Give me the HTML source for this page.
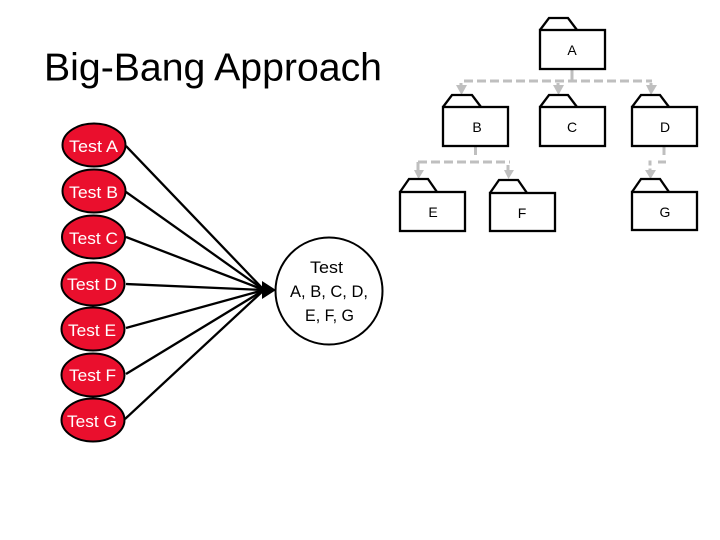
<!DOCTYPE html>
<html>
<head>
<meta charset="utf-8">
<style>
html,body{margin:0;padding:0;background:#fff;width:720px;height:540px;overflow:hidden}
svg{display:block}
text{font-family:"Liberation Sans",sans-serif}
</style>
</head>
<body>
<svg width="720" height="540" viewBox="0 0 720 540" xmlns="http://www.w3.org/2000/svg">
<rect width="720" height="540" fill="#fff"/>
<text x="44" y="80.500" font-size="39" fill="#000" textLength="338" lengthAdjust="spacingAndGlyphs">Big-Bang Approach</text>

<!-- gray dashed connectors -->
<g fill="none" stroke="#bfbfbf" stroke-width="3">
<path d="M572 70V80"/>
<path d="M464 81H652" stroke-dasharray="9 4"/>
<path d="M461 83V86M558 83V86M651 83V86"/>
<path d="M475.500 147V155"/>
<path d="M418 162H510" stroke-dasharray="9 4"/>
<path d="M418 162V172M508 165V170"/>
<path d="M664 147V155"/>
<path d="M666 162H658"/>
<path d="M650 160.500V172" stroke-dasharray="5 3"/>
</g>
<g fill="#bfbfbf">
<path d="M456 85H467L461.500 95Z"/>
<path d="M553 85H564L558.500 95Z"/>
<path d="M646 85H657L651 95Z"/>
<path d="M414 170H424L418.500 179Z"/>
<path d="M504 170H514L508.500 179Z"/>
<path d="M645 170H656L650.500 179Z"/>
</g>

<!-- folders -->
<g fill="#fff" stroke="#000" stroke-width="2.300">
<path d="M540 30L549 18H568L577 30"/><rect x="540" y="30" width="65" height="39"/>
<path d="M443 107L452 95H472L481 107"/><rect x="443" y="107" width="65" height="39"/>
<path d="M540 107L549 95H568L577 107"/><rect x="540" y="107" width="65" height="39"/>
<path d="M632 107L641 95H660L669 107"/><rect x="632" y="107" width="65" height="39"/>
<path d="M400 192L409 179H428L437 192"/><rect x="400" y="192" width="65" height="39"/>
<path d="M490 193L499 180H518L527 193"/><rect x="490" y="193" width="65" height="38"/>
<path d="M632 192L641 179H660L669 192"/><rect x="632" y="192" width="65" height="38"/>
</g>
<g font-size="14" fill="#000" text-anchor="middle">
<text x="572" y="55">A</text>
<text x="477" y="132">B</text>
<text x="572" y="132">C</text>
<text x="665" y="132">D</text>
<text x="433" y="217">E</text>
<text x="522" y="218">F</text>
<text x="665" y="217">G</text>
</g>

<!-- black lines -->
<g stroke="#000" stroke-width="2.300" fill="none">
<path d="M126 146L264 290"/>
<path d="M126 192L264 290"/>
<path d="M126 237L264 290"/>
<path d="M126 284L264 290"/>
<path d="M126 328L264 290"/>
<path d="M126 374L264 290"/>
<path d="M125 419L264 290"/>
</g>
<path d="M262 281L276 290L262 299Z" fill="#000"/>

<!-- red ellipses -->
<g fill="#ea0f2d" stroke="#000" stroke-width="2">
<ellipse cx="94" cy="145" rx="31.500" ry="21.500"/>
<ellipse cx="94" cy="191" rx="31.500" ry="21.500"/>
<ellipse cx="93.500" cy="237" rx="31.500" ry="21.500"/>
<ellipse cx="93" cy="284" rx="31.500" ry="21.500"/>
<ellipse cx="93" cy="329" rx="31.500" ry="21.500"/>
<ellipse cx="93" cy="375" rx="31.500" ry="21.500"/>
<ellipse cx="93" cy="420" rx="31.500" ry="21.500"/>
</g>
<g font-size="17" fill="#fff">
<text x="69" y="152" textLength="49" lengthAdjust="spacingAndGlyphs">Test A</text>
<text x="69" y="198" textLength="49" lengthAdjust="spacingAndGlyphs">Test B</text>
<text x="69" y="244" textLength="49" lengthAdjust="spacingAndGlyphs">Test C</text>
<text x="67" y="290" textLength="50" lengthAdjust="spacingAndGlyphs">Test D</text>
<text x="68" y="336" textLength="48" lengthAdjust="spacingAndGlyphs">Test E</text>
<text x="69" y="381" textLength="47" lengthAdjust="spacingAndGlyphs">Test F</text>
<text x="67" y="427" textLength="50" lengthAdjust="spacingAndGlyphs">Test G</text>
</g>

<!-- big circle -->
<circle cx="329" cy="291" r="53.500" fill="#fff" stroke="#000" stroke-width="2"/>
<g font-size="17" fill="#000">
<text x="310" y="273" textLength="33" lengthAdjust="spacingAndGlyphs">Test</text>
<text x="290" y="297" textLength="78" lengthAdjust="spacingAndGlyphs">A, B, C, D,</text>
<text x="305" y="321" textLength="49" lengthAdjust="spacingAndGlyphs">E, F, G</text>
</g>
</svg>
</body>
</html>
